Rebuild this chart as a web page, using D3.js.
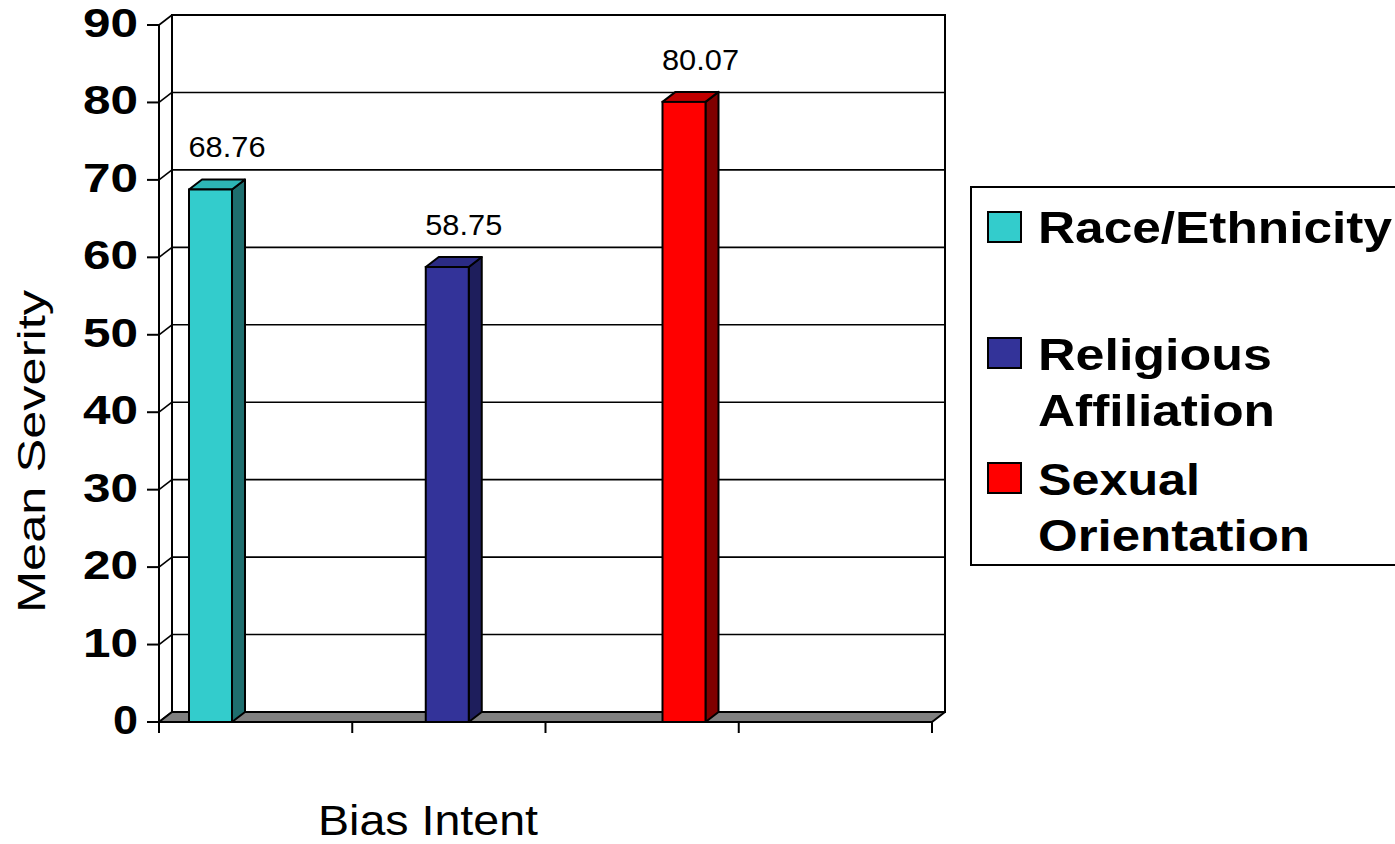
<!DOCTYPE html>
<html>
<head>
<meta charset="utf-8">
<script src="https://cdn.jsdelivr.net/npm/d3@7"></script>
<style>
  html, body { margin: 0; padding: 0; background: #fff; }
  svg { display: block; font-family: Arial, "Liberation Sans", sans-serif; }
</style>
</head>
<body>
<svg id="chart" width="1395" height="844"></svg>
<script>
// Mean severity by bias intent
const series = ["Race/Ethnicity", "Religious Affiliation", "Sexual Orientation"];
const values = [68.76, 58.75, 80.07];
const valueLabels = ["68.76", "58.75", "80.07"];
const yTicks = [0, 10, 20, 30, 40, 50, 60, 70, 80, 90];
const legendLines = [["Race/Ethnicity"], ["Religious", "Affiliation"], ["Sexual", "Orientation"]];
const xTickSteps = [0, 1, 2, 3, 4];

const frontColors = ["#33CCCC", "#333399", "#FF0000"];
const sideColors  = ["#1E6E6E", "#1E1E5C", "#800000"];
const topColors   = ["#2DB5B5", "#2B2B85", "#C00000"];

const svg = d3.select("#chart");

// 3-D plot geometry
const x0 = 159, x1 = 932;       // front floor edge
const dx = 13, dy = -10;        // depth offset
const y = d3.scaleLinear().domain([0, 90]).range([722, 25]);
const xCat = d3.scaleLinear().domain([0, 4]).range([x0, x1]);
const xBar = d3.scalePoint().domain(series).range([210.5, 684]);
const barW = 43;

const line = (pts) => "M" + pts.map(p => p.join(",")).join("L") + "Z";

// back wall
svg.append("rect")
  .attr("x", x0 + dx).attr("y", y(90) + dy)
  .attr("width", x1 - x0).attr("height", y(0) - y(90))
  .attr("fill", "#fff").attr("stroke", "#000").attr("stroke-width", 2);

// gridlines on back wall and side wall
const grid = svg.append("g").attr("stroke", "#000").attr("stroke-width", 1.6).attr("fill", "none");
yTicks.forEach(t => {
  grid.append("line")
    .attr("x1", x0 + dx).attr("x2", x1 + dx)
    .attr("y1", y(t) + dy).attr("y2", y(t) + dy);
  grid.append("line")
    .attr("x1", x0).attr("y1", y(t))
    .attr("x2", x0 + dx).attr("y2", y(t) + dy);
});
// side wall back edge
grid.append("line").attr("x1", x0 + dx).attr("x2", x0 + dx)
  .attr("y1", y(90) + dy).attr("y2", y(0) + dy).attr("stroke-width", 2);

// floor
svg.append("path")
  .attr("d", line([[x0, y(0)], [x1, y(0)], [x1 + dx, y(0) + dy], [x0 + dx, y(0) + dy]]))
  .attr("fill", "#808080").attr("stroke", "#000").attr("stroke-width", 2)
  .attr("stroke-linejoin", "round");

// value axis line and ticks
svg.append("line").attr("x1", x0).attr("x2", x0)
  .attr("y1", y(90)).attr("y2", y(0))
  .attr("stroke", "#000").attr("stroke-width", 2);
svg.append("g").selectAll("line").data(yTicks).join("line")
  .attr("x1", x0 - 12).attr("x2", x0)
  .attr("y1", d => y(d)).attr("y2", d => y(d))
  .attr("stroke", "#000").attr("stroke-width", 2);

// category axis ticks
svg.append("g").selectAll("line").data(xTickSteps).join("line")
  .attr("x1", d => xCat(d)).attr("x2", d => xCat(d))
  .attr("y1", y(0)).attr("y2", y(0) + 11)
  .attr("stroke", "#000").attr("stroke-width", 2);

// value tick labels
svg.append("g").selectAll("text").data(yTicks).join("text")
  .attr("x", 138).attr("y", d => y(d) + 12)
  .attr("text-anchor", "end")
  .attr("font-size", 40).attr("font-weight", "bold")
  .attr("textLength", d => String(d).length === 1 ? 25 : 55)
  .attr("lengthAdjust", "spacingAndGlyphs")
  .text(d => d);

// bars
const bars = svg.append("g").selectAll("g").data(series).join("g");
bars.each(function (s, i) {
  const g = d3.select(this);
  const bx = xBar(s) - barW / 2, by = y(values[i]), b0 = y(0);
  g.append("path")
    .attr("d", line([[bx + barW, by], [bx + barW + dx, by + dy], [bx + barW + dx, b0 + dy], [bx + barW, b0]]))
    .attr("fill", sideColors[i]).attr("stroke", "#000").attr("stroke-width", 2).attr("stroke-linejoin", "round");
  g.append("path")
    .attr("d", line([[bx, by], [bx + dx, by + dy], [bx + barW + dx, by + dy], [bx + barW, by]]))
    .attr("fill", topColors[i]).attr("stroke", "#000").attr("stroke-width", 2).attr("stroke-linejoin", "round");
  g.append("rect")
    .attr("x", bx).attr("y", by).attr("width", barW).attr("height", b0 - by)
    .attr("fill", frontColors[i]).attr("stroke", "#000").attr("stroke-width", 2);
  g.append("text")
    .attr("x", bx + (barW + dx) / 2 + 10).attr("y", by - 32)
    .attr("text-anchor", "middle")
    .attr("font-size", 29)
    .attr("textLength", 77).attr("lengthAdjust", "spacingAndGlyphs")
    .text(valueLabels[i]);
});

// axis titles
svg.append("text")
  .attr("transform", "translate(45,451.5) rotate(-90)")
  .attr("text-anchor", "middle")
  .attr("font-size", 39)
  .attr("textLength", 323).attr("lengthAdjust", "spacingAndGlyphs")
  .text("Mean Severity");

svg.append("text")
  .attr("x", 428).attr("y", 835)
  .attr("text-anchor", "middle")
  .attr("font-size", 42)
  .attr("textLength", 220).attr("lengthAdjust", "spacingAndGlyphs")
  .text("Bias Intent");

// legend
const legend = svg.append("g");
legend.append("rect")
  .attr("x", 971).attr("y", 187).attr("width", 440).attr("height", 378)
  .attr("fill", "#fff").attr("stroke", "#000").attr("stroke-width", 2);

const swatchY = [212, 338, 463];
const lineBaselines = [[243], [370, 426], [495, 551]];
const lineWidths = [[354], [234, 237], [162, 272]];

series.forEach((s, i) => {
  legend.append("rect")
    .attr("x", 988).attr("y", swatchY[i]).attr("width", 33).attr("height", 30)
    .attr("fill", frontColors[i]).attr("stroke", "#000").attr("stroke-width", 2);
  legendLines[i].forEach((ln, j) => {
    legend.append("text")
      .attr("x", 1038).attr("y", lineBaselines[i][j])
      .attr("font-size", 45).attr("font-weight", "bold")
      .attr("textLength", lineWidths[i][j]).attr("lengthAdjust", "spacingAndGlyphs")
      .text(ln);
  });
});
</script>
</body>
</html>
